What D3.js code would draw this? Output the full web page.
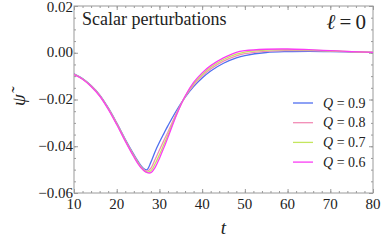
<!DOCTYPE html>
<meta charset="utf-8">
<style>
  body { margin: 0; background: white; }
  .frame { fill: none; stroke: #9a9a9a; stroke-width: 1; }
  .tick line { stroke: #9a9a9a; }
  .series { fill: none; stroke-width: 1.3; }
</style>
<body>
<div id="chart"></div>
<script src="https://cdn.jsdelivr.net/npm/d3@7"></script>
<script>
  // time samples shared by all four curves
  var tVals = [10, 12, 14, 16, 18, 20, 22, 24, 25, 26, 27, 28, 29, 30, 31, 32, 34, 36, 38, 40, 42, 45, 48, 50, 55, 60, 65, 70, 75, 80];

  var psiQ09 = [-0.0090, -0.0110, -0.0140, -0.0180, -0.0235, -0.0300, -0.0370, -0.0435, -0.0465, -0.0490, -0.0501, -0.0468, -0.0422, -0.0383, -0.0347, -0.0312, -0.0247, -0.0191, -0.0145, -0.0108, -0.0078, -0.0045, -0.0022, -0.0012, 0.0001, 0.0005, 0.0006, 0.0005, 0.0003, 0.0002];
  var psiQ08 = [-0.0091, -0.0111, -0.0141, -0.0181, -0.0237, -0.0302, -0.0373, -0.0439, -0.0469, -0.0494, -0.0507, -0.0494, -0.0456, -0.0416, -0.0377, -0.0339, -0.0258, -0.0189, -0.0138, -0.0100, -0.0069, -0.0036, -0.0013, -0.0004, 0.0006, 0.0009, 0.0009, 0.0007, 0.0004, 0.0002];
  var psiQ07 = [-0.0092, -0.0112, -0.0143, -0.0183, -0.0239, -0.0305, -0.0376, -0.0442, -0.0472, -0.0496, -0.0511, -0.0505, -0.0475, -0.0436, -0.0394, -0.0352, -0.0263, -0.0187, -0.0132, -0.0093, -0.0062, -0.0029, -0.0006, 0.0003, 0.0011, 0.0013, 0.0011, 0.0008, 0.0005, 0.0002];
  var psiQ06 = [-0.0093, -0.0113, -0.0144, -0.0185, -0.0241, -0.0307, -0.0378, -0.0445, -0.0475, -0.0498, -0.0512, -0.0513, -0.0490, -0.0452, -0.0408, -0.0362, -0.0266, -0.0186, -0.0127, -0.0086, -0.0055, -0.0022, 0.0002, 0.0009, 0.0015, 0.0016, 0.0013, 0.0009, 0.0005, 0.0002];

  var qLabels = ["0.9", "0.8", "0.7", "0.6"];
  var colors = ["#4f6ff0", "#f28cb6", "#c4e65e", "#fa3cf5"];

  var xTicks = [10, 20, 30, 40, 50, 60, 70, 80];
  var yTicks = [0.02, 0.00, -0.02, -0.04, -0.06];

  var W = 383, H = 247;
  var margin = { top: 6, right: 10, bottom: 54, left: 74 };
  var serif = "'Liberation Serif'";

  var svg = d3.select("#chart").append("svg")
    .attr("width", W)
    .attr("height", H);

  var x = d3.scaleLinear().domain([10, 80]).range([margin.left, W - margin.right]);
  var y = d3.scaleLinear().domain([-0.06, 0.02]).range([H - margin.bottom, margin.top]);

  var x0 = x.range()[0], x1 = x.range()[1];
  var y0 = y.range()[0], y1 = y.range()[1];

  // clip so curves stay inside frame
  svg.append("clipPath").attr("id", "clip")
    .append("rect").attr("x", x0).attr("y", y1).attr("width", x1 - x0).attr("height", y0 - y1);

  // ticks on all four sides, pointing inward
  var xMinor = d3.range(10, 80.01, 2);
  var yMinor = d3.range(-0.06, 0.0201, 0.005);

  function tickAxis(axisFn, scale, vals, size, transform) {
    svg.append("g")
      .attr("transform", transform)
      .call(axisFn(scale).tickValues(vals).tickSize(size).tickFormat(""))
      .call(g => g.select(".domain").remove());
  }
  tickAxis(d3.axisTop, x, xMinor, 2, `translate(0,${y0})`);
  tickAxis(d3.axisTop, x, xTicks, 4, `translate(0,${y0})`);
  tickAxis(d3.axisBottom, x, xMinor, 2, `translate(0,${y1})`);
  tickAxis(d3.axisBottom, x, xTicks, 4, `translate(0,${y1})`);
  tickAxis(d3.axisRight, y, yMinor, 2, `translate(${x0},0)`);
  tickAxis(d3.axisRight, y, yTicks, 4, `translate(${x0},0)`);
  tickAxis(d3.axisLeft, y, yMinor, 2, `translate(${x1},0)`);
  tickAxis(d3.axisLeft, y, yTicks, 4, `translate(${x1},0)`);

  svg.append("rect").attr("class", "frame")
    .attr("x", x0).attr("y", y1).attr("width", x1 - x0).attr("height", y0 - y1);

  // tick labels
  svg.append("g").selectAll("text")
    .data(xTicks).enter().append("text")
    .attr("x", d => x(d))
    .attr("y", y0 + 15.5)
    .attr("text-anchor", "middle")
    .attr("font-size", 15)
    .text(d => d);

  var fmt = d => (d < 0 ? "\u2212" : "") + Math.abs(d).toFixed(2);
  svg.append("g").selectAll("text")
    .data(yTicks).enter().append("text")
    .attr("x", x0 - 1)
    .attr("y", d => Math.max(y(d) + 4.5, 12))
    .attr("text-anchor", "end")
    .attr("font-size", 15)
    .text(fmt);

  // curves
  var series = [psiQ09, psiQ08, psiQ07, psiQ06];
  var line = d3.line()
    .x((d, i) => x(tVals[i]))
    .y(d => y(d))
    .curve(d3.curveCatmullRom.alpha(0.5));

  svg.append("g").attr("clip-path", "url(#clip)")
    .selectAll("path")
    .data(series).enter().append("path")
    .attr("class", "series")
    .attr("stroke", (d, i) => colors[i])
    .attr("d", line);

  // legend
  var lg = svg.append("g").selectAll("g")
    .data(qLabels).enter().append("g")
    .attr("transform", (d, i) => `translate(293,${103 + i * 19.7})`);
  lg.append("line")
    .attr("x1", 0).attr("x2", 20)
    .attr("stroke", (d, i) => colors[i])
    .attr("stroke-width", 1.3);
  var lt = lg.append("text")
    .attr("x", 30).attr("y", 4.5)
    .attr("font-size", 14);
  lt.append("tspan").attr("font-style", "italic").text("Q");
  lt.append("tspan").text(d => " = " + d);

  // annotations
  svg.append("text")
    .attr("x", 82).attr("y", 25)
    .attr("font-size", 18)
    .text("Scalar perturbations");

  var ell = svg.append("text")
    .attr("x", 366).attr("y", 29)
    .attr("text-anchor", "end")
    .attr("font-size", 21);
  ell.append("tspan").attr("font-style", "italic").text("\u2113");
  ell.append("tspan").text("\u2009=\u20090");

  svg.append("text")
    .attr("transform", "translate(25,100) rotate(-90)")
    .attr("text-anchor", "middle")
    .attr("font-size", 19)
    .attr("font-style", "italic")
    .text("\u03C8\u0303");

  svg.append("text")
    .attr("x", x(45))
    .attr("y", 234)
    .attr("text-anchor", "middle")
    .attr("font-size", 19)
    .attr("font-style", "italic")
    .text("t");

  svg.selectAll("text").attr("font-family", serif).attr("fill", "#222");
</script>
</body>
